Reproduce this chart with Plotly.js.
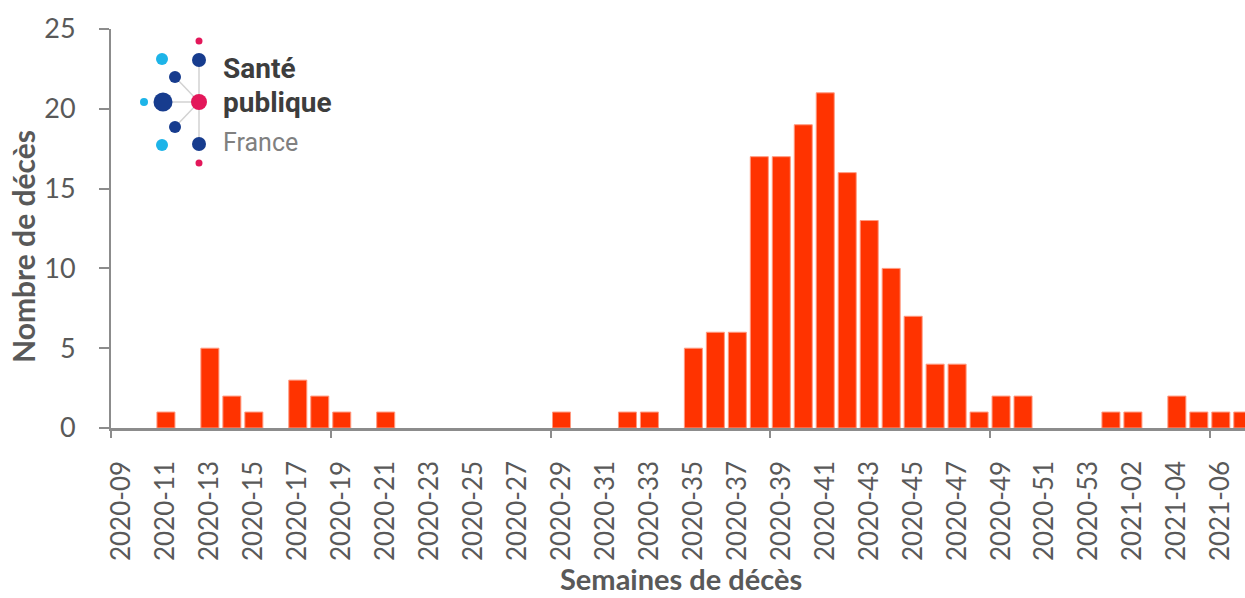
<!DOCTYPE html>
<html>
<head>
<meta charset="utf-8">
<script src="https://cdn.plot.ly/plotly-3.0.1.min.js"></script>
<style>html,body{margin:0;padding:0;background:#fff;}#chart{width:1245px;height:598px;}</style>
</head>
<body>
<div id="chart"></div>
<script>
// Weeks (semaines de décès)
const weeks = [
  "2020-09","2020-10","2020-11","2020-12","2020-13","2020-14","2020-15","2020-16","2020-17","2020-18",
  "2020-19","2020-20","2020-21","2020-22","2020-23","2020-24","2020-25","2020-26","2020-27","2020-28",
  "2020-29","2020-30","2020-31","2020-32","2020-33","2020-34","2020-35","2020-36","2020-37","2020-38",
  "2020-39","2020-40","2020-41","2020-42","2020-43","2020-44","2020-45","2020-46","2020-47","2020-48",
  "2020-49","2020-50","2020-51","2020-52","2020-53","2021-01","2021-02","2021-03","2021-04","2021-05",
  "2021-06","2021-07"
];
// Number of deaths per week
const deaths = [
  0,0,1,0,5,2,1,0,3,2,
  1,0,1,0,0,0,0,0,0,0,
  1,0,0,1,1,0,5,6,6,17,
  17,19,21,16,13,10,7,4,4,1,
  2,2,0,0,0,1,1,0,2,1,
  1,1
];
const yTicks = [0,5,10,15,20,25];

// label every second week, tick marks every tenth week boundary
const labelWeeks = weeks.filter((w,i)=>i%2===0);
const boundaryTicks = weeks.map((w,i)=>i).filter(i=>i%10===0).map(i=>i-0.5);

const gray = '#595959';
const axisGray = '#8c8c8c';

const traces = [
  {
    type:'bar', x:weeks, y:deaths,
    marker:{color:'#ff3300', line:{color:'#ff9a80', width:deaths.map(v=>v>0?1:0)}},
    hoverinfo:'x+y'
  },
  {type:'scatter', x:[], y:[], xaxis:'x2', yaxis:'y', showlegend:false, hoverinfo:'skip'}
];

// pixel -> paper helpers (for decoration placement)
const L = 111, T = 29, W = 1134, H = 399;
const px = v => (v - L) / W;
const py = v => (T + H - v) / H;

// Santé publique France logo
const dark = '#173c8e', light = '#1db4e8', pink = '#e3175a', lineC = '#d2d2d2';
const dots = [
  [199,41,3.5,pink],[199,60,7,dark],[162,59,6,light],[175,77,6,dark],
  [144,102,4,light],[163,102,9.5,dark],[199,102,8,pink],[175,127,6,dark],
  [162,145,6,light],[199,144,7,dark],[199,163,3.5,pink]
];
const segs = [[199,60,199,144],[199,102,163,102],[199,102,175,77],[199,102,175,127]];
const shapes = [];
segs.forEach(s=>shapes.push({type:'line', xref:'paper', yref:'paper', x0:px(s[0]), y0:py(s[1]), x1:px(s[2]), y1:py(s[3]), line:{color:lineC, width:1.5}, layer:'above'}));
dots.forEach(d=>shapes.push({type:'circle', xref:'paper', yref:'paper', x0:px(d[0]-d[2]), x1:px(d[0]+d[2]), y0:py(d[1]+d[2]), y1:py(d[1]-d[2]), fillcolor:d[3], line:{width:0}, layer:'above'}));

const annotations = [
  {text:'<b>Santé</b>', x:px(221), y:py(68), xref:'paper', yref:'paper', xanchor:'left', yanchor:'middle', showarrow:false, font:{family:'Roboto', size:28, color:'#3d3d3d'}},
  {text:'<b>publique</b>', x:px(221), y:py(102), xref:'paper', yref:'paper', xanchor:'left', yanchor:'middle', showarrow:false, font:{family:'Roboto', size:28, color:'#3d3d3d'}},
  {text:'France', x:px(221), y:py(142), xref:'paper', yref:'paper', xanchor:'left', yanchor:'middle', showarrow:false, font:{family:'Roboto', size:25, color:'#808080'}},
  // axis titles
  {text:'<b>Nombre de décès</b>', x:px(23), y:py(247), xref:'paper', yref:'paper', xanchor:'center', yanchor:'middle', textangle:-90, showarrow:false, font:{family:'Lato', size:30, color:gray}},
  {text:'<b>Semaines de décès</b>', x:px(681), y:py(578), xref:'paper', yref:'paper', xanchor:'center', yanchor:'middle', showarrow:false, font:{family:'Lato', size:29, color:gray}}
];

const layout = {
  width:1245, height:598,
  margin:{l:L, r:0, t:T, b:598-T-H, pad:0},
  paper_bgcolor:'#fff', plot_bgcolor:'#fff',
  showlegend:false,
  bargap:0.18,
  font:{family:'Lato, "Open Sans", sans-serif', color:gray},
  xaxis:{
    type:'category', categoryorder:'array', categoryarray:weeks,
    range:[-0.5, 51.1],
    tickmode:'array', tickvals:labelWeeks, ticktext:labelWeeks,
    tickangle:-90, ticks:'', ticklabelstandoff:20,
    tickfont:{size:26, color:gray},
    showline:true, linecolor:axisGray, linewidth:2.5,
    showgrid:false, zeroline:false,
    automargin:false
  },
  xaxis2:{
    overlaying:'x', anchor:'y', side:'bottom', type:'linear',
    range:[-0.5, 51.1], tickmode:'array', tickvals:boundaryTicks,
    ticks:'outside', ticklen:9, tickwidth:2, tickcolor:axisGray,
    showticklabels:false, showline:false, showgrid:false, zeroline:false
  },
  yaxis:{
    range:[0,25], tickmode:'array', tickvals:yTicks,
    ticks:'outside', ticklen:10, tickwidth:2, tickcolor:axisGray,
    ticklabelstandoff:18,
    tickfont:{size:27, color:gray},
    showline:true, linecolor:axisGray, linewidth:2,
    showgrid:false, zeroline:false,
    automargin:false
  },
  shapes:shapes,
  annotations:annotations
};

Plotly.newPlot('chart', traces, layout, {displayModeBar:false, staticPlot:true});
</script>
</body>
</html>
